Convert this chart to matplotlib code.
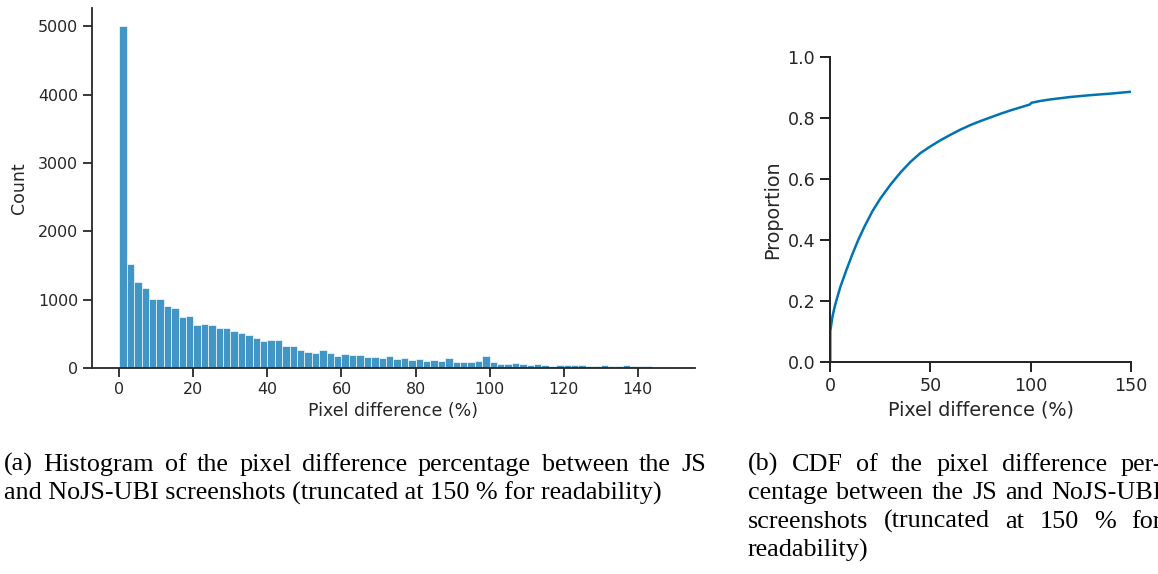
import numpy as np
import matplotlib
matplotlib.use("Agg")
import matplotlib.pyplot as plt

# histogram: counts per 2 % bin, 0..148
bin_width = 2
hist_counts = [
    5000, 1525, 1257, 1173, 1012, 1012, 904, 875, 752, 762,
    630, 650, 630, 582, 582, 538, 513, 479, 435, 391,
    410, 410, 323, 323, 264, 240, 225, 264, 215, 176,
    200, 190, 185, 161, 154, 150, 178, 127, 147, 117,
    127, 103, 122, 108, 152, 93, 93, 93, 103, 171,
    93, 54, 64, 73, 64, 49, 54, 49, 29, 44,
    44, 44, 39, 29, 29, 39, 29, 29, 39, 29,
    29, 29, 0, 15,
]

# CDF
cdf_x = [0, 0, 1, 2, 3, 5, 8, 11, 14, 17, 21, 25, 30, 35, 40, 45, 50, 55, 60,
         65, 70, 75, 80, 85, 90, 95, 99.5, 100.5, 105, 110, 120, 130, 140, 150]
cdf_y = [0, 0.10, 0.145, 0.175, 0.20, 0.245, 0.30, 0.352, 0.40, 0.442, 0.493, 0.535,
         0.58, 0.62, 0.655, 0.684, 0.706, 0.726, 0.744, 0.761, 0.776, 0.789,
         0.801, 0.813, 0.824, 0.834, 0.843, 0.849, 0.855, 0.86, 0.868, 0.874,
         0.879, 0.885]

hist_xticks = [0, 20, 40, 60, 80, 100, 120, 140]
hist_yticks = [0, 1000, 2000, 3000, 4000, 5000]
cdf_xticks = [0, 50, 100, 150]
cdf_yticks = [0.0, 0.2, 0.4, 0.6, 0.8, 1.0]

caption_a = [
    "(a) Histogram of the pixel difference percentage between the JS",
    "and NoJS-UBI screenshots (truncated at 150 % for readability)",
]
caption_b = [
    "(b) CDF of the pixel difference per-",
    "centage between the JS and NoJS-UBI",
    "screenshots (truncated at 150 % for",
    "readability)",
]

blue = "#0173b2"
dark = "#262626"

W, H = 1158, 574
fig = plt.figure(figsize=(W / 100, H / 100), dpi=100)


def style_axes(ax, scale):
    for side in ["top", "right"]:
        ax.spines[side].set_visible(False)
    for side in ["left", "bottom"]:
        ax.spines[side].set_linewidth(1.25 * scale)
        ax.spines[side].set_color(dark)
    ax.tick_params(length=6 * scale, width=1.25 * scale, color=dark,
                   labelsize=11 * scale, labelcolor=dark, pad=3.5 * scale)


# panel (a)
ax1 = fig.add_axes([92 / W, 206 / H, 603 / W, 360 / H])
edges = np.arange(len(hist_counts)) * bin_width
ax1.bar(edges, hist_counts, width=bin_width, align="edge", color=blue,
        alpha=0.75, edgecolor="white", linewidth=0.6)
ax1.set_xlim(-7.4, 155.5)
ax1.set_ylim(0, 5270)
ax1.set_xticks(hist_xticks)
ax1.set_yticks(hist_yticks)
s1 = 1.04
style_axes(ax1, s1)
ax1.set_xlabel("Pixel difference (%)", fontsize=12 * s1, color=dark)
ax1.set_ylabel("Count", fontsize=12 * s1, color=dark, labelpad=7)

# panel (b)
ax2 = fig.add_axes([830.3 / W, 212.3 / H, 300.4 / W, 305 / H])
ax2.plot(cdf_x, cdf_y, color=blue, linewidth=1.8)
ax2.set_xlim(0, 150)
ax2.set_ylim(0, 1)
ax2.set_xticks(cdf_xticks)
ax2.set_yticks(cdf_yticks)
ax2.yaxis.set_major_formatter(matplotlib.ticker.FormatStrFormatter("%.1f"))
s2 = 1.15
style_axes(ax2, s2)
ax2.set_xlabel("Pixel difference (%)", fontsize=12 * s2, color=dark)
ax2.set_ylabel("Proportion", fontsize=12 * s2, color=dark)

# captions, justified word by word
renderer = fig.canvas.get_renderer()
cap_font = dict(family="Liberation Serif", fontsize=18.8, color="black", va="baseline")


def justified(lines, x0, x1, y0, step, last_left=True):
    for i, line in enumerate(lines):
        y = 1 - (y0 + i * step) / H
        words = line.split(" ")
        if i == len(lines) - 1 and last_left:
            fig.text(x0 / W, y, line, ha="left", **cap_font)
            continue
        texts = [fig.text(0, y, w, ha="left", **cap_font) for w in words]
        widths = [t.get_window_extent(renderer).width for t in texts]
        gap = (x1 - x0 - sum(widths)) / (len(words) - 1)
        x = x0
        for t, w in zip(texts, widths):
            t.set_x(x / W)
            x += w + gap


justified(caption_a, 4, 706, 471, 28.5)
justified(caption_b, 748, 1162, 470.7, 28.5)

fig.savefig("out.png", dpi=100)
